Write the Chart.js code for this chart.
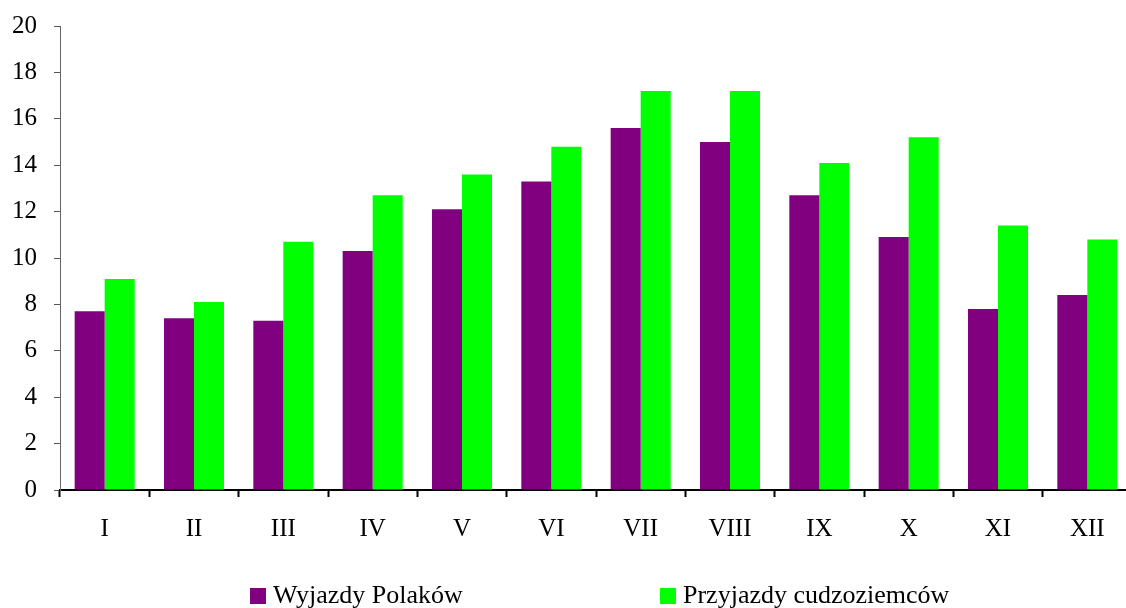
<!DOCTYPE html>
<html>
<head>
<meta charset="utf-8">
<script src="https://cdn.jsdelivr.net/npm/chart.js@4"></script>
<style>
  html, body { margin: 0; padding: 0; background: #fff; overflow: hidden; }
  #wrap { width: 1132px; height: 614px; margin-top: -6px; }
</style>
</head>
<body>
<div id="wrap"><canvas id="chart" width="1132" height="614"></canvas></div>
<script>
var months = ["I", "II", "III", "IV", "V", "VI", "VII", "VIII", "IX", "X", "XI", "XII"];
var wyjazdy = [7.7, 7.4, 7.3, 10.3, 12.1, 13.3, 15.6, 15.0, 12.7, 10.9, 7.8, 8.4];
var przyjazdy = [9.1, 8.1, 10.7, 12.7, 13.6, 14.8, 17.2, 17.2, 14.1, 15.2, 11.4, 10.8];
var seriesNames = ["Wyjazdy Polaków", "Przyjazdy cudzoziemców"];
var seriesColors = ["#800080", "#00ff00"];

var serif = "'Liberation Serif', 'Times New Roman', serif";
var font = { family: serif, size: 25 };

// legend drawn by hand, the two entries sit far apart
var legendPlugin = {
  id: "wideLegend",
  afterDraw: function(chart) {
    var ctx = chart.ctx;
    var xs = [250, 660];
    ctx.save();
    ctx.font = "26px " + serif;
    ctx.textBaseline = "alphabetic";
    ctx.textAlign = "left";
    chart.data.datasets.forEach(function(ds, i) {
      ctx.fillStyle = ds.backgroundColor;
      ctx.fillRect(xs[i], 594, 16, 16);
      ctx.fillStyle = "#000";
      ctx.fillText(ds.label, xs[i] + 23, 609);
    });
    ctx.restore();
  }
};

var ctx = document.getElementById("chart").getContext("2d");
new Chart(ctx, {
  type: "bar",
  data: {
    labels: months,
    datasets: [
      { label: seriesNames[0], data: wyjazdy, backgroundColor: seriesColors[0] },
      { label: seriesNames[1], data: przyjazdy, backgroundColor: seriesColors[1] }
    ]
  },
  options: {
    responsive: false,
    animation: false,
    layout: { padding: 0 },
    datasets: { bar: { barPercentage: 1, categoryPercentage: 0.672 } },
    plugins: { legend: { display: false }, tooltip: { enabled: false } },
    scales: {
      x: {
        afterFit: function(axis) { axis.height = 118; },
        grid: { offset: true, drawOnChartArea: false, drawTicks: true, tickLength: 7, tickColor: "#000", tickWidth: 2 },
        border: { color: "#000", width: 2 },
        ticks: { color: "#000", font: font, padding: 17, maxRotation: 0 }
      },
      y: {
        min: 0,
        max: 20,
        afterFit: function(axis) { axis.width = 60; },
        grid: { drawOnChartArea: false, drawTicks: true, tickLength: 6, tickColor: "#555" },
        border: { color: "#666", width: 1 },
        ticks: { stepSize: 2, color: "#000", font: font, padding: 17 }
      }
    }
  },
  plugins: [legendPlugin]
});
</script>
</body>
</html>
